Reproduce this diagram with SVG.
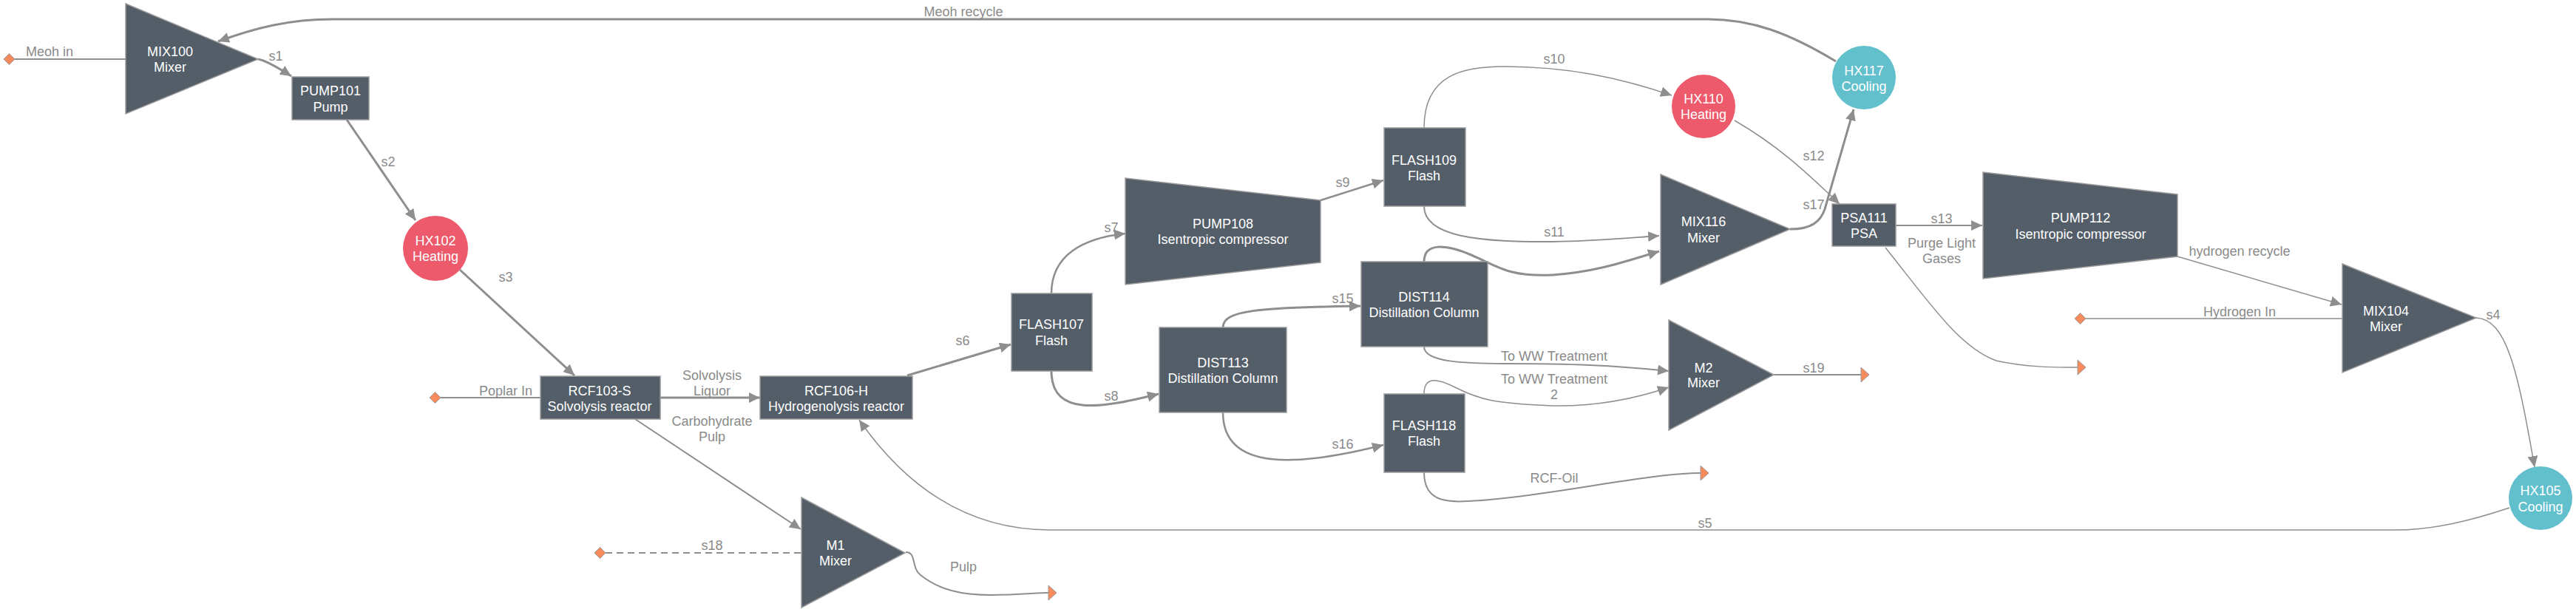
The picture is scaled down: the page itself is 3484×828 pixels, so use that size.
<svg xmlns="http://www.w3.org/2000/svg" width="3484" height="828" viewBox="0 0 3484 828">
<style>
.node{fill:#545e69;stroke:#9a9a9a;stroke-width:1.5}
.heat{fill:#ec5a6b}
.cool{fill:#62c0cc}
.nt{font-family:"Liberation Sans",Arial,sans-serif;font-size:18px;fill:#ffffff;text-anchor:middle}
.lb{font-family:"Liberation Sans",Arial,sans-serif;font-size:18px;fill:#8a8a8a;text-anchor:middle}
.e{fill:none;stroke:#8e8e8e}
.w3{stroke-width:3}
.w25{stroke-width:2.5}
.w2{stroke-width:2}
.w15{stroke-width:1.5}
.arr{marker-end:url(#arrow)}
.out{marker-end:url(#outlet)}
.inl{marker-start:url(#inlet)}
</style>
<defs>
<marker id="arrow" markerUnits="userSpaceOnUse" markerWidth="18" markerHeight="16" refX="15" refY="7" orient="auto">
<path d="M0,0 L15,7 L0,14 z" fill="#8e8e8e"/>
</marker>
<marker id="outlet" markerUnits="userSpaceOnUse" markerWidth="16" markerHeight="26" refX="1" refY="11" orient="auto">
<path d="M1,1 L12,11 L1,21 z" fill="#f78b5b" stroke="#9a9a9a" stroke-width="1"/>
</marker>
<marker id="inlet" markerUnits="userSpaceOnUse" markerWidth="20" markerHeight="20" refX="16" refY="9" orient="auto">
<path d="M1,9 L8.5,1.5 L16,9 L8.5,16.5 z" fill="#f78b5b" stroke="#9a9a9a" stroke-width="1"/>
</marker>
</defs>
<rect width="3484" height="828" fill="#ffffff"/>
<g id="connectors">
<path class="e w2 inl" d="M20,80 L170,80"/>
<path class="e w3 arr" d="M2483,83 C2420,45 2370,26 2310,26 L450,26 C390,26 345,38 295,56"/>
<path class="e w3 arr" d="M349,80 C360,82 380,94 394,103"/>
<path class="e w3 arr" d="M469,162 L562,298"/>
<path class="e w3 arr" d="M622,365 L777,508"/>
<path class="e w2 inl" d="M596,538 L731,538"/>
<path class="e w3 arr" d="M893,538 L1028,538"/>
<path class="e w2 arr" d="M859,567 L1083,716"/>
<path class="e w2 inl" stroke-dasharray="9,6" d="M819,748 L1084,748"/>
<path class="e w2 out" d="M1225,747 C1240,747 1232,768 1245,778 C1270,798 1300,805 1340,805 C1380,805 1400,802 1418,802"/>
<path class="e w3 arr" d="M1227,508 L1367,466"/>
<path class="e w25 arr" d="M1422,397 C1422,345 1465,322 1522,316"/>
<path class="e w3 arr" d="M1422,502 C1422,565 1490,552 1567,533"/>
<path class="e w25 arr" d="M1786,271 L1871,244"/>
<path class="e w3 arr" d="M1654,443 C1654,420 1700,416 1840,414"/>
<path class="e w25 arr" d="M1654,558 C1654,640 1760,630 1871,602"/>
<path class="e w15 arr" d="M1926,173 C1926,100 1980,90 2034,90 C2120,90 2190,105 2261,129"/>
<path class="e w2 arr" d="M1926,279 C1926,320 2000,328 2100,327 C2160,326 2200,322 2244,319"/>
<path class="e w3 arr" d="M1926,354 C1926,328 1955,330 1990,345 C2025,360 2040,375 2100,372 C2160,368 2200,353 2244,340"/>
<path class="e w2 arr" d="M1926,469 C1926,490 1980,492 2040,492 C2120,492 2180,494 2257,502"/>
<path class="e w15 arr" d="M1926,533 C1926,508 1945,512 1970,525 C2000,540 2020,546 2100,549 C2160,550 2210,540 2257,524"/>
<path class="e w2 out" d="M1926,639 C1926,682 1960,680 2003,677 C2100,670 2230,640 2300,640"/>
<path class="e w15 arr" d="M2346,163 C2410,200 2450,240 2488,276"/>
<path class="e w3 arr" d="M2421,310 C2450,310 2462,300 2468,283 L2507,148"/>
<path class="e w2 arr" d="M2563,305 L2681,305"/>
<path class="e w15 out" d="M2550,335 C2610,410 2650,470 2700,488 C2740,497 2780,497 2810,497"/>
<path class="e w15 arr" d="M2945,347 L3167,412"/>
<path class="e w15 inl" d="M2821,431 L3168,431"/>
<path class="e w15 arr" d="M3349,430 C3390,432 3405,500 3428,632"/>
<path class="e w15 arr" d="M3394,687 C3340,705 3290,717 3240,717 L1420,717 C1330,717 1240,680 1162,568"/>
<path class="e w2 out" d="M2399,507 L2517,507"/>
</g>
<g id="labels">
<text class="lb" x="67" y="76">Meoh in</text>
<text class="lb" x="1303" y="22">Meoh recycle</text>
<text class="lb" x="373" y="82">s1</text>
<text class="lb" x="525" y="225">s2</text>
<text class="lb" x="684" y="381">s3</text>
<text class="lb" x="684" y="535">Poplar In</text>
<text class="lb" x="963" y="514">Solvolysis</text>
<text class="lb" x="963" y="535">Liquor</text>
<text class="lb" x="963" y="576">Carbohydrate</text>
<text class="lb" x="963" y="597">Pulp</text>
<text class="lb" x="963" y="744">s18</text>
<text class="lb" x="1303" y="773">Pulp</text>
<text class="lb" x="1302" y="467">s6</text>
<text class="lb" x="1503" y="314">s7</text>
<text class="lb" x="1503" y="542">s8</text>
<text class="lb" x="1816" y="253">s9</text>
<text class="lb" x="1816" y="410">s15</text>
<text class="lb" x="1816" y="607">s16</text>
<text class="lb" x="2102" y="86">s10</text>
<text class="lb" x="2102" y="320">s11</text>
<text class="lb" x="2453" y="217">s12</text>
<text class="lb" x="2453" y="283">s17</text>
<text class="lb" x="2102" y="488">To WW Treatment</text>
<text class="lb" x="2102" y="519">To WW Treatment</text>
<text class="lb" x="2102" y="540">2</text>
<text class="lb" x="2102" y="653">RCF-Oil</text>
<text class="lb" x="2453" y="504">s19</text>
<text class="lb" x="2306" y="714">s5</text>
<text class="lb" x="2626" y="302">s13</text>
<text class="lb" x="2626" y="335">Purge Light</text>
<text class="lb" x="2626" y="356">Gases</text>
<text class="lb" x="3029" y="346">hydrogen recycle</text>
<text class="lb" x="3029" y="428">Hydrogen In</text>
<text class="lb" x="3372" y="432">s4</text>
</g>
<g id="MIX100"><polygon class="node" points="170,5 349,80 170,154"/><text class="nt" x="230" y="76">MIX100</text><text class="nt" x="230" y="97">Mixer</text></g>
<g id="PUMP101"><rect class="node" x="395" y="104" width="104" height="58"/><text class="nt" x="447" y="129">PUMP101</text><text class="nt" x="447" y="151">Pump</text></g>
<g id="HX102"><circle class="heat" cx="589" cy="336" r="44"/><text class="nt" x="589" y="332">HX102</text><text class="nt" x="589" y="353">Heating</text></g>
<g id="RCF103-S"><rect class="node" x="731" y="509" width="162" height="58"/><text class="nt" x="811" y="535">RCF103-S</text><text class="nt" x="811" y="556">Solvolysis reactor</text></g>
<g id="RCF106-H"><rect class="node" x="1028" y="509" width="206" height="58"/><text class="nt" x="1131" y="535">RCF106-H</text><text class="nt" x="1131" y="556">Hydrogenolysis reactor</text></g>
<g id="M1"><polygon class="node" points="1084,673 1224,748 1084,822"/><text class="nt" x="1130" y="744">M1</text><text class="nt" x="1130" y="765">Mixer</text></g>
<g id="FLASH107"><rect class="node" x="1368" y="397" width="109" height="105"/><text class="nt" x="1422" y="445">FLASH107</text><text class="nt" x="1422" y="467">Flash</text></g>
<g id="PUMP108"><polygon class="node" points="1522,241 1786,271 1786,355 1522,385"/><text class="nt" x="1654" y="309">PUMP108</text><text class="nt" x="1654" y="330">Isentropic compressor</text></g>
<g id="DIST113"><rect class="node" x="1568" y="443" width="172" height="115"/><text class="nt" x="1654" y="497">DIST113</text><text class="nt" x="1654" y="518">Distillation Column</text></g>
<g id="FLASH109"><rect class="node" x="1872" y="173" width="110" height="106"/><text class="nt" x="1926" y="223">FLASH109</text><text class="nt" x="1926" y="244">Flash</text></g>
<g id="DIST114"><rect class="node" x="1841" y="354" width="171" height="115"/><text class="nt" x="1926" y="408">DIST114</text><text class="nt" x="1926" y="429">Distillation Column</text></g>
<g id="FLASH118"><rect class="node" x="1872" y="533" width="109" height="106"/><text class="nt" x="1926" y="582">FLASH118</text><text class="nt" x="1926" y="603">Flash</text></g>
<g id="HX110"><circle class="heat" cx="2304" cy="144" r="43"/><text class="nt" x="2304" y="140">HX110</text><text class="nt" x="2304" y="161">Heating</text></g>
<g id="MIX116"><polygon class="node" points="2246,236 2421,310 2246,385"/><text class="nt" x="2304" y="306">MIX116</text><text class="nt" x="2304" y="328">Mixer</text></g>
<g id="M2"><polygon class="node" points="2257,433 2399,507 2257,582"/><text class="nt" x="2304" y="504">M2</text><text class="nt" x="2304" y="524">Mixer</text></g>
<g id="HX117"><circle class="cool" cx="2521" cy="105" r="43"/><text class="nt" x="2521" y="102">HX117</text><text class="nt" x="2521" y="123">Cooling</text></g>
<g id="PSA111"><rect class="node" x="2478" y="276" width="86" height="57"/><text class="nt" x="2521" y="301">PSA111</text><text class="nt" x="2521" y="322">PSA</text></g>
<g id="PUMP112"><polygon class="node" points="2682,233 2945,263 2945,347 2682,377"/><text class="nt" x="2814" y="301">PUMP112</text><text class="nt" x="2814" y="323">Isentropic compressor</text></g>
<g id="MIX104"><polygon class="node" points="3168,357 3349,430 3168,504"/><text class="nt" x="3227" y="427">MIX104</text><text class="nt" x="3227" y="448">Mixer</text></g>
<g id="HX105"><circle class="cool" cx="3436" cy="674" r="43"/><text class="nt" x="3436" y="670">HX105</text><text class="nt" x="3436" y="692">Cooling</text></g>
</svg>
